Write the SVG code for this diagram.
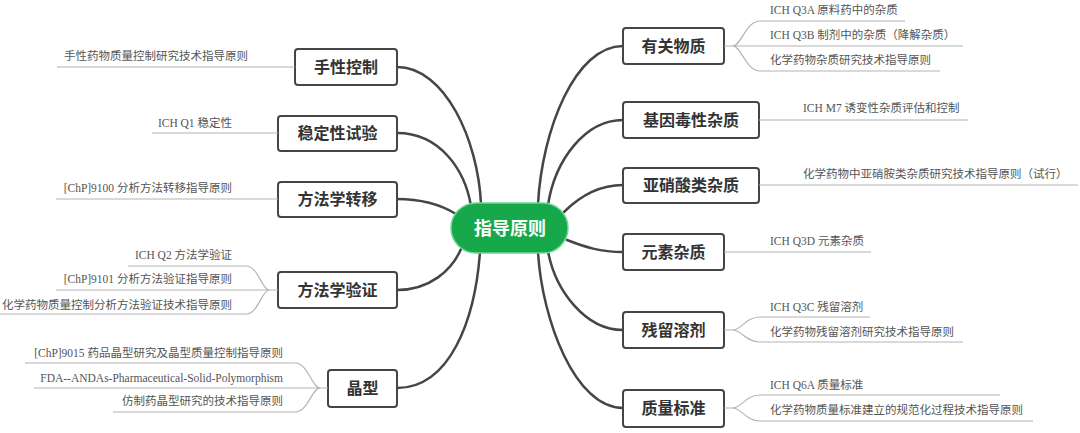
<svg xmlns="http://www.w3.org/2000/svg" width="1080" height="433" viewBox="0 0 1080 433">
<style>
.bg{fill:#ffffff}
.conn{fill:none;stroke:#454545;stroke-width:2.5;stroke-linecap:round}
.leaf{fill:none;stroke:#b4b4b4;stroke-width:1.2}
.box{fill:#ffffff;stroke:#454545;stroke-width:2}
.lbl{font-family:"Liberation Serif","Noto Sans CJK SC",serif;font-size:16px;font-weight:bold;fill:#333333;text-anchor:middle}
.lt{font-family:"Liberation Serif","Noto Sans CJK SC",serif;font-size:11.5px;fill:#555555}
.end{text-anchor:end}
.root{fill:#18a84c;stroke:#6fd895;stroke-width:1.5}
.rootlbl{font-family:"Liberation Serif","Noto Sans CJK SC",serif;font-size:18px;font-weight:bold;fill:#ffffff;text-anchor:middle}
</style>
<rect class="bg" x="0" y="0" width="1080" height="433"/>
<g id="connectors">
<path class="conn" d="M397,67 C445,67 478,140 481,204"/>
<path class="conn" d="M397,133 C440,133 465,170 471,206"/>
<path class="conn" d="M397,199 C425,199 443,206 456,214"/>
<path class="conn" d="M397,290 C430,290 452,270 461,249"/>
<path class="conn" d="M397,388 C450,388 475,320 480,252"/>
<path class="conn" d="M623,46 C575,46 542,130 538,204"/>
<path class="conn" d="M623,120 C585,120 555,160 548,205"/>
<path class="conn" d="M623,185 C600,185 580,196 564,212"/>
<path class="conn" d="M623,252 C600,252 585,247 567,240"/>
<path class="conn" d="M623,330 C585,330 555,290 548,251"/>
<path class="conn" d="M623,408 C575,408 542,320 538,252"/>
</g>
<g id="root">
<rect class="root" x="451" y="203" width="117" height="50" rx="25"/>
<text class="rootlbl" x="510" y="235">指导原则</text>
</g>
<g id="n-shouxing">
<rect class="box" x="295" y="49" width="102" height="36" rx="3"/>
<text class="lbl" x="346" y="73">手性控制</text>
<path class="leaf" d="M57,67 H295"/>
<text class="lt end" x="248" y="60">手性药物质量控制研究技术指导原则</text>
</g>
<g id="n-wending">
<rect class="box" x="278" y="116" width="119" height="35" rx="3"/>
<text class="lbl" x="337.5" y="139">稳定性试验</text>
<path class="leaf" d="M152,133 H278"/>
<text class="lt end" x="232" y="127">ICH Q1 稳定性</text>
</g>
<g id="n-zhuanyi">
<rect class="box" x="278" y="182" width="119" height="35" rx="3"/>
<text class="lbl" x="337.5" y="205">方法学转移</text>
<path class="leaf" d="M56,199 H278"/>
<text class="lt end" x="232" y="192">[ChP]9100 分析方法转移指导原则</text>
</g>
<g id="n-yanzheng">
<rect class="box" x="278" y="272" width="119" height="36" rx="3"/>
<text class="lbl" x="337.5" y="296">方法学验证</text>
<path class="leaf" d="M278,290 H269 C262,290 258,266 246,266 H128"/>
<path class="leaf" d="M269,290 H56"/>
<path class="leaf" d="M269,290 C262,290 258,314 246,314 H0"/>
<text class="lt end" x="232" y="259">ICH Q2 方法学验证</text>
<text class="lt end" x="232" y="283">[ChP]9101 分析方法验证指导原则</text>
<text class="lt end" x="232" y="309">化学药物质量控制分析方法验证技术指导原则</text>
</g>
<g id="n-jingxing">
<rect class="box" x="328" y="370" width="69" height="37" rx="3"/>
<text class="lbl" x="362.5" y="394">晶型</text>
<path class="leaf" d="M328,388 H320 C312,388 308,363 295,363 H25"/>
<path class="leaf" d="M320,388 H34"/>
<path class="leaf" d="M320,388 C312,388 308,412 295,412 H113"/>
<text class="lt end" x="283" y="357">[ChP]9015 药品晶型研究及晶型质量控制指导原则</text>
<text class="lt end" x="283" y="382">FDA--ANDAs-Pharmaceutical-Solid-Polymorphism</text>
<text class="lt end" x="283" y="405">仿制药晶型研究的技术指导原则</text>
</g>
<g id="n-youguan">
<rect class="box" x="623" y="28" width="101" height="36" rx="3"/>
<text class="lbl" x="673.5" y="52">有关物质</text>
<path class="leaf" d="M724,46 H733 C741,46 746,21 760,21 H905"/>
<path class="leaf" d="M733,46 H963"/>
<path class="leaf" d="M733,46 C741,46 746,71 760,71 H940"/>
<text class="lt" x="770" y="14">ICH Q3A 原料药中的杂质</text>
<text class="lt" x="770" y="39">ICH Q3B 制剂中的杂质（降解杂质）</text>
<text class="lt" x="770" y="64">化学药物杂质研究技术指导原则</text>
</g>
<g id="n-jiyin">
<rect class="box" x="623" y="102" width="136" height="36" rx="3"/>
<text class="lbl" x="691" y="126">基因毒性杂质</text>
<path class="leaf" d="M759,120 H968"/>
<text class="lt" x="803" y="112">ICH M7 诱变性杂质评估和控制</text>
</g>
<g id="n-yaxiao">
<rect class="box" x="623" y="168" width="136" height="35" rx="3"/>
<text class="lbl" x="691" y="191">亚硝酸类杂质</text>
<path class="leaf" d="M759,185 H1078"/>
<text class="lt" x="803" y="178">化学药物中亚硝胺类杂质研究技术指导原则（试行）</text>
</g>
<g id="n-yuansu">
<rect class="box" x="623" y="234" width="101" height="36" rx="3"/>
<text class="lbl" x="673.5" y="258">元素杂质</text>
<path class="leaf" d="M724,252 H871"/>
<text class="lt" x="770" y="245">ICH Q3D 元素杂质</text>
</g>
<g id="n-canliu">
<rect class="box" x="623" y="312" width="101" height="36" rx="3"/>
<text class="lbl" x="673.5" y="336">残留溶剂</text>
<path class="leaf" d="M724,330 H733 C741,330 746,317 760,317 H870"/>
<path class="leaf" d="M733,330 C741,330 746,342 760,342 H963"/>
<text class="lt" x="770" y="311">ICH Q3C 残留溶剂</text>
<text class="lt" x="770" y="336">化学药物残留溶剂研究技术指导原则</text>
</g>
<g id="n-zhiliang">
<rect class="box" x="623" y="390" width="101" height="37" rx="3"/>
<text class="lbl" x="673.5" y="414">质量标准</text>
<path class="leaf" d="M724,408 H733 C741,408 746,395 760,395 H1000"/>
<path class="leaf" d="M733,408 C741,408 746,421 760,421 H1033"/>
<text class="lt" x="770" y="389">ICH Q6A 质量标准</text>
<text class="lt" x="770" y="414">化学药物质量标准建立的规范化过程技术指导原则</text>
</g>
</svg>
